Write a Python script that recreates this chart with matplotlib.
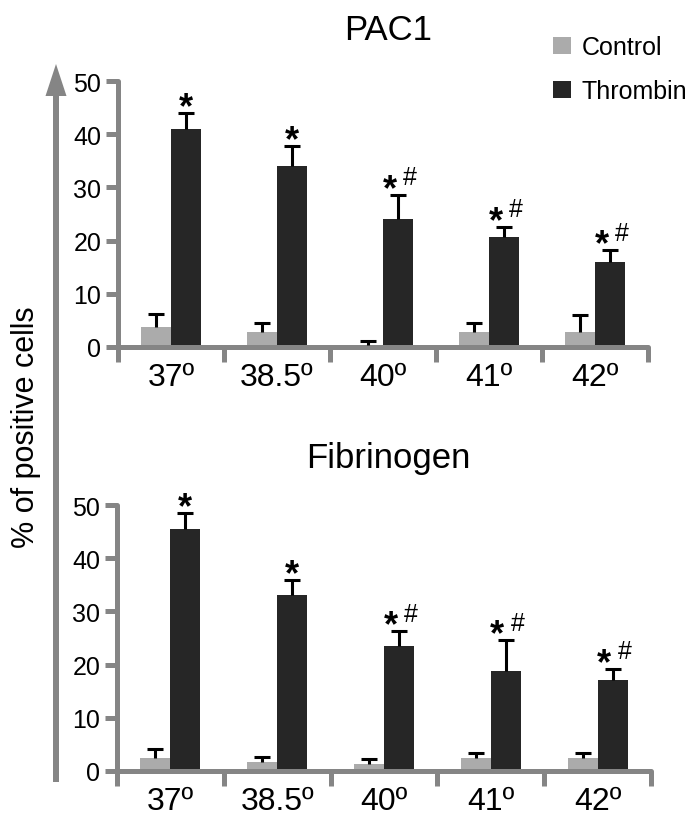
import matplotlib
matplotlib.use("Agg")
import matplotlib.pyplot as plt
from matplotlib.patches import FancyArrow, Patch
import numpy as np

plt.rcParams['font.family'] = ['Liberation Sans', 'DejaVu Sans']

categories = ["37º", "38.5º", "40º", "41º", "42º"]

pac1_control = [3.8, 2.9, 0.4, 2.9, 2.9]
pac1_control_err = [2.4, 1.6, 0.7, 1.6, 3.1]
pac1_thrombin = [41.0, 34.0, 24.1, 20.7, 16.0]
pac1_thrombin_err = [3.0, 3.8, 4.5, 1.9, 2.2]
pac1_marks = ["*", "*", "*#", "*#", "*#"]

fib_control = [2.4, 1.6, 1.4, 2.4, 2.4]
fib_control_err = [1.7, 1.0, 0.9, 1.0, 1.0]
fib_thrombin = [45.5, 33.1, 23.5, 18.8, 17.1]
fib_thrombin_err = [3.0, 2.8, 2.8, 5.8, 2.1]
fib_marks = ["*", "*", "*#", "*#", "*#"]

yticks = [0, 10, 20, 30, 40, 50]

W, H = 698, 829
fig = plt.figure(figsize=(W / 100, H / 100), dpi=100)

GRAY = "#858585"
CTRL = "#ababab"
THR = "#262626"


def px_axes(x0, x1, y_top, y_bot):
    return [x0 / W, 1 - y_bot / H, (x1 - x0) / W, (y_bot - y_top) / H]


def upper_errorbar(ax, xs, ys, errs):
    cont = ax.errorbar(xs, ys, yerr=[np.zeros(len(xs)), errs], fmt='none',
                       ecolor='black', elinewidth=2.2, capsize=6, capthick=2.2, zorder=3)
    caps = cont[1]
    if len(caps) == 2:
        caps[0].set_visible(False)


def panel(rect, ctrl, ctrl_err, thr, thr_err, marks):
    ax = fig.add_axes(rect)
    x = np.arange(len(categories))
    bw = 0.28
    ax.bar(x - bw / 2, ctrl, bw, color=CTRL, edgecolor='none', zorder=2)
    ax.bar(x + bw / 2, thr, bw, color=THR, edgecolor='none', zorder=2)
    upper_errorbar(ax, x - bw / 2, ctrl, ctrl_err)
    upper_errorbar(ax, x + bw / 2, thr, thr_err)
    for i, m in enumerate(marks):
        top = thr[i] + thr_err[i]
        dx = 0 if m == "*" else -6
        ax.annotate("*", (x[i] + bw / 2, top), xytext=(dx, -3), textcoords='offset points',
                    ha='center', va='baseline', fontsize=26, fontweight='bold', color='black')
        if "#" in m:
            ax.annotate("#", (x[i] + bw / 2, top), xytext=(8.5, 7.5), textcoords='offset points',
                        ha='center', va='baseline', fontsize=18, color='black')
    ax.set_xlim(-0.5, len(categories) - 0.5)
    ax.set_ylim(0, 50)
    for s in ['top', 'right']:
        ax.spines[s].set_visible(False)
    for s in ['left', 'bottom']:
        ax.spines[s].set_color(GRAY)
        ax.spines[s].set_linewidth(3.6)
        ax.spines[s].set_capstyle('round')
    ax.set_yticks(yticks)
    ax.set_yticklabels([str(v) for v in yticks])
    ax.tick_params(axis='y', direction='out', length=9, width=3.6, color=GRAY,
                   labelsize=18, pad=3)
    ax.set_xticks(np.arange(-0.5, len(categories), 1.0))
    ax.set_xticklabels([])
    ax.tick_params(axis='x', which='major', direction='out', length=11, width=3.6, color=GRAY)
    ax.set_xticks(x, minor=True)
    ax.set_xticklabels(categories, minor=True)
    ax.tick_params(axis='x', which='minor', length=0, labelsize=23, pad=11)
    ax.patch.set_alpha(0)
    return ax


ax1 = panel(px_axes(118, 648, 82, 348), pac1_control, pac1_control_err,
            pac1_thrombin, pac1_thrombin_err, pac1_marks)
ax2 = panel(px_axes(117, 651, 506, 772), fib_control, fib_control_err,
            fib_thrombin, fib_thrombin_err, fib_marks)

fig.text(388 / W, 1 - 40 / H, "PAC1", ha='center', va='baseline', fontsize=25)
fig.text(388 / W, 1 - 468 / H, "Fibrinogen", ha='center', va='baseline', fontsize=25)

fig.text(26 / W, 1 - 427 / H, "% of positive cells", rotation=90, ha='center', va='center',
         fontsize=22)

arrow = FancyArrow(56 / 100, (H - 783) / 100, 0, (783 - 65) / 100, width=0.06,
                   head_width=0.21, head_length=0.32, length_includes_head=True,
                   color=GRAY, transform=fig.dpi_scale_trans, linewidth=0)
fig.patches.append(arrow)

handles = [Patch(facecolor=CTRL, edgecolor='none', label='Control'),
           Patch(facecolor=THR, edgecolor='none', label='Thrombin')]
fig.legend(handles=handles, loc='upper left', bbox_to_anchor=(553 / W, 1 - 36 / H),
           frameon=False, fontsize=18, handlelength=0.7, handleheight=0.7,
           handletextpad=0.45, labelspacing=0.8, borderpad=0, borderaxespad=0)

fig.savefig("out.png", dpi=100)
